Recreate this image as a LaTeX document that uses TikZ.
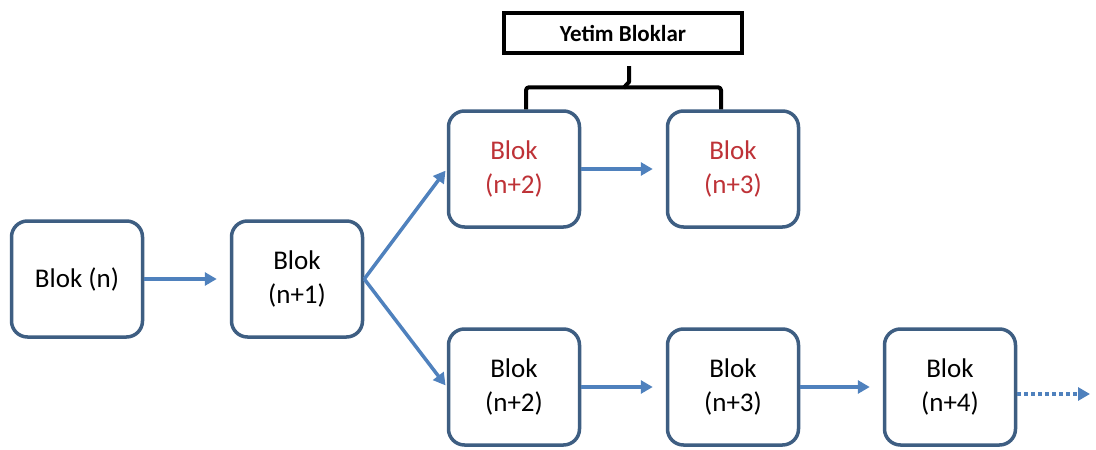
\documentclass[tikz,border=0pt]{standalone}
\usepackage{fontspec}
\setmainfont{Carlito}
\usetikzlibrary{arrows.meta}
\definecolor{boxline}{RGB}{62,94,130}
\definecolor{arrowblue}{RGB}{79,129,189}
\definecolor{orphanred}{RGB}{190,50,55}
\tikzset{
  blok/.style={draw=boxline, line width=3.5pt, rounded corners=16pt, fill=white,
    minimum width=131pt, minimum height=116pt, align=center,
    font=\fontsize{27}{34}\selectfont, inner sep=0pt},
  link/.style={draw=arrowblue, line width=3.5pt,
    -{Triangle[length=12pt,width=13pt]}, shorten >=13pt},
  dotlink/.style={link, dash pattern=on 4pt off 3pt, shorten >=0pt},
  label box/.style={draw=black, line width=3.5pt, minimum width=238pt,
    minimum height=40pt, font=\bfseries\fontsize{23}{27}\selectfont}
}
\begin{document}
\begin{tikzpicture}[x=1pt,y=-1pt]
  \useasboundingbox (0,0) rectangle (1096,450);
  % main chain
  \node[blok] (b0) at (77,279) {Blok (n)};
  \node[blok] (b1) at (297,279) {Blok\\(n+1)};
  % orphan branch
  \node[blok, text=orphanred] (o2) at (514,169) {Blok\\(n+2)};
  \node[blok, text=orphanred] (o3) at (733,169) {Blok\\(n+3)};
  % surviving branch
  \node[blok] (c2) at (514,387) {Blok\\(n+2)};
  \node[blok] (c3) at (733,387) {Blok\\(n+3)};
  \node[blok] (c4) at (950,387) {Blok\\(n+4)};
  \coordinate (more) at (1090,394);
  % label with bracket
  \node[label box] (lbl) at (623,33) {Yetim Bloklar};
  \draw[line width=4pt, line join=round, rounded corners=3pt]
    ([xshift=12pt]o2.north) -- ++(0,-22) -| ([xshift=-12pt]o3.north);
  \draw[line width=4pt, line join=round]
    (623.5,88) -- (629,82) -- (629,66);
  % connectors
  \draw[link] (b0.east) -- (b1.west);
  \draw[link, shorten >=2pt] (b1.east) -- (o2.west);
  \draw[link, shorten >=2pt] (b1.east) -- (c2.west);
  \draw[link] (o2.east) -- (o3.west);
  \draw[link] (c2.east) -- (c3.west);
  \draw[link] (c3.east) -- (c4.west);
  \draw[dotlink] (c4.east |- more) -- (more);
\end{tikzpicture}
\end{document}
